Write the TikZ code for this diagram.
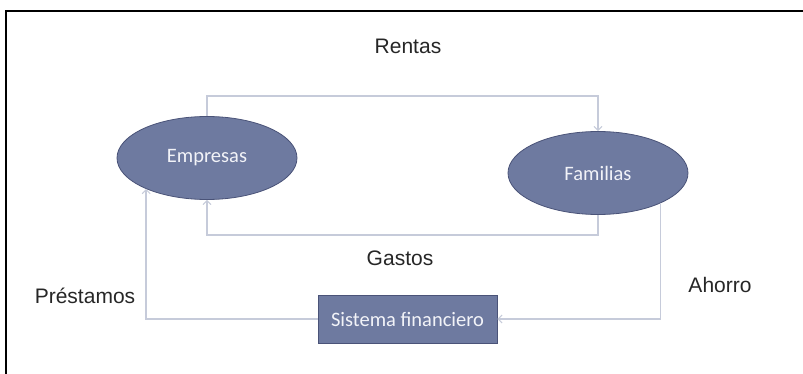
\documentclass[tikz,border=0pt]{standalone}
\usepackage{fontspec}
\setmainfont{Liberation Sans}
\newfontfamily\nodefont{Carlito}
\usetikzlibrary{shapes.geometric,arrows.meta}
\definecolor{nodefill}{HTML}{6E7AA0}
\definecolor{nodeborder}{HTML}{4A5378}
\definecolor{flow}{HTML}{C6CBDA}
\definecolor{nodetext}{HTML}{F2F3F8}
\tikzset{
  ovalnode/.style={ellipse, draw=nodeborder, line width=0.8pt, fill=nodefill,
    minimum width=180pt, minimum height=83pt, inner sep=0pt,
    text=nodetext, font=\nodefont\fontsize{20.5}{22}\selectfont},
  boxnode/.style={rectangle, draw=nodeborder, line width=0.8pt, fill=nodefill,
    minimum width=179pt, minimum height=48pt, inner sep=0pt,
    text=nodetext, font=\nodefont\fontsize{20.5}{22}\selectfont},
  flowline/.style={draw=flow, line width=1.5pt,
    -{Straight Barb[length=4pt,width=8pt,line width=1pt]}},
  lbl/.style={font=\fontsize{21}{23}\selectfont, text=black!85, inner sep=0pt}
}
\begin{document}
\begin{tikzpicture}[x=1pt,y=-1pt]
\useasboundingbox (0,0) rectangle (803,374);
\draw[line width=2pt, black] (6,380) -- (6,11) -- (810,11);
\node[ovalnode] (emp) at (207,158) {Empresas};
\node[ovalnode] (fam) at (598,173) {Familias};
\node[boxnode] (sf) at (407.5,319) {Sistema financiero};
\coordinate (rt) at (400,96);
\coordinate (gt) at (400,235);
\draw[flowline] (emp.north) |- (rt) -| (fam.north);
\draw[flowline] (fam.south) |- (gt) -| (emp.south);
\draw[flowline] (fam.-26) |- (sf.east);
\draw[flowline] (sf.west) -| (emp.207);
\node[lbl] (lrentas) at (408,46) {Rentas};
\node[lbl] (lgastos) at (400,258) {Gastos};
\node[lbl] (lprest) at (85,296) {Préstamos};
\node[lbl] (lahorro) at (720,285) {Ahorro};
\end{tikzpicture}
\end{document}
